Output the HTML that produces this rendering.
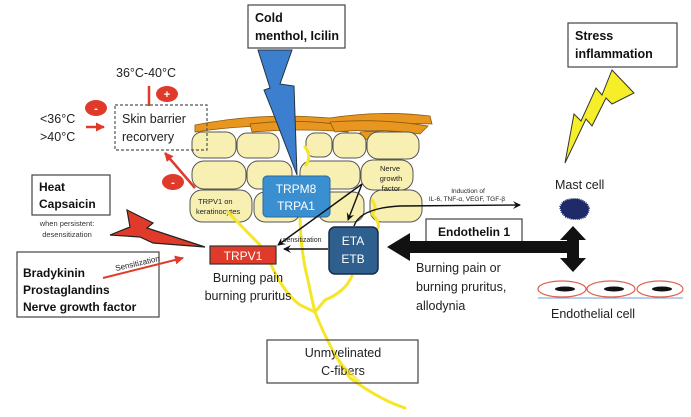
<!DOCTYPE html>
<html><head><meta charset="utf-8"><style>
html,body{margin:0;padding:0;background:#fff}
svg{display:block;font-family:"Liberation Sans",sans-serif}
</style></head><body>
<svg width="691" height="417" viewBox="0 0 691 417" xmlns="http://www.w3.org/2000/svg">
<defs>
<marker id="ah" markerWidth="8" markerHeight="8" refX="7" refY="4" orient="auto" markerUnits="userSpaceOnUse"><path d="M0,0 L8,4 L0,8 L3,4 Z" fill="#111"/></marker>
<marker id="ar" markerWidth="9" markerHeight="9" refX="8" refY="4.5" orient="auto" markerUnits="userSpaceOnUse"><path d="M0,0 L9,4.5 L0,9 Z" fill="#e03a2a"/></marker>
</defs>
<rect width="691" height="417" fill="#fff"/>
<!-- orange layer -->
<g fill="#e8961f" stroke="#8a5a10" stroke-width="0.8">
<path d="M195,125 Q260,112 330,118 Q380,110 430,116 L432,124 Q380,122 330,128 Q260,122 195,132 Z"/>
<path d="M250,124 Q300,118 350,126 L348,132 Q300,128 252,132 Z"/>
<path d="M330,122 Q380,118 428,126 L420,134 Q380,128 335,132 Z"/>
<path d="M360,132 Q380,130 400,134 L395,140 Q378,138 362,140 Z"/>
</g>
<!-- cells -->
<g fill="#f8efb3" stroke="#555" stroke-width="1">
<rect x="192" y="132" width="44" height="26" rx="10"/>
<rect x="237" y="133" width="42" height="25" rx="10"/>
<rect x="306" y="133" width="26" height="24" rx="9"/>
<rect x="333" y="133" width="33" height="25" rx="10"/>
<rect x="367" y="132" width="52" height="27" rx="11"/>
<rect x="192" y="161" width="54" height="28" rx="12"/>
<rect x="247" y="161" width="45" height="28" rx="11"/>
<rect x="300" y="161" width="60" height="28" rx="11"/>
<rect x="361" y="160" width="52" height="30" rx="12"/>
<rect x="190" y="190" width="62" height="32" rx="12"/>
<rect x="254" y="192" width="46" height="30" rx="11"/>
<rect x="318" y="192" width="46" height="30" rx="11"/>
<rect x="370" y="190" width="52" height="32" rx="12"/>
</g>
<text x="198" y="204" font-size="7.5" fill="#222">TRPV1 on</text>
<text x="196" y="214" font-size="7.5" fill="#222">keratinocytes</text>
<text font-size="7.5" fill="#222" text-anchor="middle"><tspan x="390" y="171">Nerve</tspan><tspan x="391" y="181">growth</tspan><tspan x="391" y="191">factor</tspan></text>
<!-- yellow nerves -->
<g fill="none" stroke="#f5e62a" stroke-width="3" stroke-linecap="round">
<path d="M305,147 Q312,155 306,165"/>
<path d="M300,212 Q300,250 308,280 Q312,300 315,312 Q330,350 350,378 Q380,400 405,408"/>
<path d="M228,212 Q245,230 265,250 Q280,290 300,305 L315,312"/>
<path d="M352,276 Q345,292 325,300 L315,312"/>
<path d="M372,200 Q378,208 372,214 Q380,222 378,228"/>
</g>
<!-- skin barrier -->
<rect x="115" y="105" width="92" height="45" fill="none" stroke="#555" stroke-width="1.2" stroke-dasharray="3,2"/>
<text x="122" y="123" font-size="12.5" fill="#222">Skin barrier</text>
<text x="122" y="141" font-size="12.5" fill="#222">recorvery</text>
<text x="116" y="77" font-size="12.5" fill="#222">36°C-40°C</text>
<text x="40" y="123" font-size="12.5" fill="#222">&lt;36°C</text>
<text x="40" y="141" font-size="12.5" fill="#222">&gt;40°C</text>
<line x1="149" y1="86" x2="149" y2="106" stroke="#e03a2a" stroke-width="2.5"/>
<line x1="86" y1="127" x2="104" y2="127" stroke="#e03a2a" stroke-width="2.5" marker-end="url(#ar)"/>
<line x1="195" y1="188" x2="165" y2="153" stroke="#e03a2a" stroke-width="2.5" marker-end="url(#ar)"/>
<g fill="#e03a2a"><ellipse cx="167" cy="94" rx="11" ry="8"/><ellipse cx="96" cy="108" rx="11" ry="8"/><ellipse cx="173" cy="182" rx="11" ry="8"/></g>
<g fill="#fff" font-size="11" font-weight="bold" text-anchor="middle"><text x="167" y="98">+</text><text x="96" y="112">-</text><text x="173" y="186">-</text></g>
<!-- cold -->
<rect x="248" y="5" width="97" height="43" fill="#fff" stroke="#444" stroke-width="1.2"/>
<text x="255" y="22" font-size="12.5" font-weight="bold" fill="#111">Cold</text>
<text x="255" y="40" font-size="12.5" font-weight="bold" fill="#111">menthol, Icilin</text>
<polygon points="258,50 292,50 280,84 294,86 297,175 272,110 264,90 270,88" fill="#3d7fcf" stroke="#234" stroke-width="1"/>
<!-- TRPM8 -->
<rect x="263" y="176" width="67" height="41" rx="4" fill="#3a8fd0" stroke="#2a6aa0"/>
<text x="296" y="193" font-size="12" fill="#fff" text-anchor="middle">TRPM8</text>
<text x="296" y="210" font-size="12" fill="#fff" text-anchor="middle">TRPA1</text>
<!-- ETA -->
<rect x="329" y="227" width="49" height="47" rx="6" fill="#2f5f8f" stroke="#1a2a40" stroke-width="1.5"/>
<text x="353" y="245" font-size="12" fill="#fff" text-anchor="middle">ETA</text>
<text x="353" y="263" font-size="12" fill="#fff" text-anchor="middle">ETB</text>
<!-- TRPV1 -->
<rect x="210" y="246" width="66" height="18" fill="#e03a2a" stroke="#333" stroke-width="1.2"/>
<text x="243" y="260" font-size="12" fill="#fff" text-anchor="middle">TRPV1</text>
<text x="248" y="282" font-size="12.5" fill="#222" text-anchor="middle">Burning pain</text>
<text x="248" y="300" font-size="12.5" fill="#222" text-anchor="middle">burning pruritus</text>
<!-- black arrows -->
<g stroke="#111" stroke-width="1.4" fill="none">
<line x1="362" y1="184" x2="278" y2="245" marker-end="url(#ah)"/>
<line x1="362" y1="184" x2="348" y2="220" marker-end="url(#ah)"/>
<line x1="328" y1="249" x2="284" y2="249" marker-end="url(#ah)"/>
<path d="M354,226 Q360,208 400,206 L520,205" marker-end="url(#ah)"/>
</g>
<text x="283" y="242" font-size="7" fill="#222">sensitization</text>
<text x="468" y="193" font-size="6.5" fill="#222" text-anchor="middle">Induction of</text>
<text x="467" y="201" font-size="6.5" fill="#222" text-anchor="middle">IL-6, TNF-α, VEGF, TGF-β</text>
<!-- Endothelin -->
<rect x="426" y="219" width="96" height="24" fill="#fff" stroke="#444" stroke-width="1.2"/>
<text x="474" y="236" font-size="12" font-weight="bold" fill="#111" text-anchor="middle">Endothelin 1</text>
<polygon points="387,247 410,233 410,241 573,241 573,253 410,253 410,261" fill="#111"/>
<polygon points="573,226 586,240 579,240 579,258 586,258 573,272 560,258 567,258 567,240 560,240" fill="#111"/>
<text x="416" y="272" font-size="12.5" fill="#222">Burning pain or</text>
<text x="416" y="291" font-size="12.5" fill="#222">burning pruritus,</text>
<text x="416" y="310" font-size="12.5" fill="#222">allodynia</text>
<!-- stress -->
<rect x="568" y="23" width="109" height="44" fill="#fff" stroke="#444" stroke-width="1.2"/>
<text x="575" y="40" font-size="12.5" font-weight="bold" fill="#111">Stress</text>
<text x="575" y="58" font-size="12.5" font-weight="bold" fill="#111">inflammation</text>
<polygon points="612,70 634,93 612,104 606,98 592,126 586,119 565,163 574,114 581,121 596,88 602,95" fill="#f7ee2a" stroke="#333" stroke-width="1"/>
<text x="555" y="189" font-size="12.5" fill="#222">Mast cell</text>
<path d="M560,207 l3,-5 4,-2 5,-1 6,0 5,2 4,3 2,4 -1,5 -3,4 -6,2 -7,0 -6,-2 -4,-4 z" fill="#1f2a6a" stroke="#1f2a6a" stroke-width="2" stroke-dasharray="1,1"/>
<!-- endothelial -->
<g fill="#fff" stroke="#e06050" stroke-width="1.2"><ellipse cx="562" cy="289" rx="24" ry="8"/><ellipse cx="611" cy="289" rx="24" ry="8"/><ellipse cx="660" cy="289" rx="23" ry="8"/></g>
<g fill="#111"><ellipse cx="565" cy="289" rx="10" ry="2.5"/><ellipse cx="614" cy="289" rx="10" ry="2.5"/><ellipse cx="662" cy="289" rx="10" ry="2.5"/></g>
<line x1="538" y1="298" x2="683" y2="298" stroke="#6aa0d8" stroke-width="1"/>
<text x="551" y="318" font-size="12.5" fill="#222">Endothelial cell</text>
<!-- heat -->
<rect x="32" y="175" width="78" height="40" fill="#fff" stroke="#444" stroke-width="1.2"/>
<text x="39" y="191" font-size="12" font-weight="bold" fill="#111">Heat</text>
<text x="39" y="208" font-size="12" font-weight="bold" fill="#111">Capsaicin</text>
<text x="67" y="226" font-size="7.5" fill="#333" text-anchor="middle">when persistent:</text>
<text x="67" y="237" font-size="7.5" fill="#333" text-anchor="middle">desensitization</text>
<polygon points="127,210 153,223 147,228 205,247 153,243 140,237 110,235 130,227" fill="#e03a2a" stroke="#222" stroke-width="1.2"/>
<!-- bradykinin -->
<rect x="17" y="252" width="142" height="65" fill="#fff" stroke="#444" stroke-width="1.2"/>
<text x="23" y="277" font-size="12" font-weight="bold" fill="#111">Bradykinin</text>
<text x="23" y="294" font-size="12" font-weight="bold" fill="#111">Prostaglandins</text>
<text x="23" y="311" font-size="12" font-weight="bold" fill="#111">Nerve growth factor</text>
<line x1="103" y1="278" x2="183" y2="258" stroke="#e03a2a" stroke-width="2" marker-end="url(#ar)"/>
<text x="116" y="271" font-size="8" fill="#222" transform="rotate(-13 116 271)">Sensitization</text>
<!-- unmyelinated -->
<rect x="267" y="340" width="151" height="43" fill="none" stroke="#444" stroke-width="1.2"/>
<text x="343" y="357" font-size="12.5" fill="#222" text-anchor="middle">Unmyelinated</text>
<text x="343" y="375" font-size="12.5" fill="#222" text-anchor="middle">C-fibers</text>
<path d="M335,355 Q345,370 360,382" fill="none" stroke="#f5e62a" stroke-width="3" opacity="0.7"/>
</svg>
</body></html>
